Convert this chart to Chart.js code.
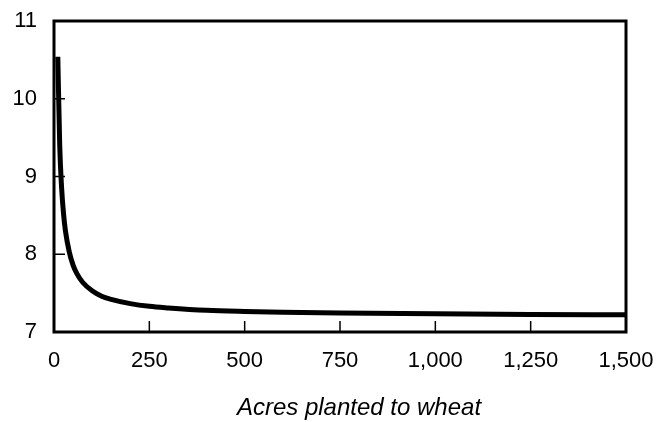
<!DOCTYPE html>
<html lang="en">
  <head>
    <meta charset="UTF-8" />
    <title>Average cost per acre</title>
    <script src="https://cdn.jsdelivr.net/npm/chart.js"></script>
    <style>
      body {
        margin: 0;
        padding: 0;
        background: #fff;
      }
    </style>
  </head>
  <body>
    <canvas id="costChart" width="670" height="422"></canvas>

    <script>
      // values
      const acres = [10, 15, 20, 25, 30, 40, 50, 60, 75, 100, 125, 150, 200, 250, 300, 400, 500, 600, 750, 1000, 1250, 1500];
      const cost = [10.54, 9.4, 8.85, 8.52, 8.3, 8.03, 7.86, 7.75, 7.64, 7.53, 7.46, 7.42, 7.365, 7.33, 7.31, 7.28, 7.265, 7.255, 7.245, 7.235, 7.225, 7.222];
      const xTicks = [0, 250, 500, 750, 1000, 1250, 1500];
      const yTicks = [7, 8, 9, 10, 11];
      const xTitle = "Acres planted to wheat";

      const fontFamily = "'Liberation Sans', Arial, sans-serif";

      // box around the plot, inward tick marks and the axis title
      const frame = {
        id: "frame",
        afterDraw(chart) {
          const { ctx, chartArea: a, scales } = chart;
          ctx.save();
          ctx.strokeStyle = "#000";
          ctx.lineWidth = 1.5;
          xTicks.forEach((v) => {
            const x = scales.x.getPixelForValue(v);
            ctx.beginPath();
            ctx.moveTo(x, a.bottom);
            ctx.lineTo(x, a.bottom - 11);
            ctx.stroke();
          });
          yTicks.forEach((v) => {
            const y = scales.y.getPixelForValue(v);
            ctx.beginPath();
            ctx.moveTo(a.left, y);
            ctx.lineTo(a.left + 11, y);
            ctx.stroke();
          });
          ctx.lineWidth = 3;
          ctx.strokeRect(a.left, a.top, a.right - a.left, a.bottom - a.top);

          // title sits a little right of the plot centre in the original
          ctx.fillStyle = "#000";
          ctx.font = "italic 24px " + fontFamily;
          ctx.textAlign = "center";
          ctx.textBaseline = "alphabetic";
          ctx.fillText(xTitle, (a.left + a.right) / 2 + 19, a.bottom + 83);
          ctx.restore();
        },
      };

      const font = { family: fontFamily, size: 22 };

      new Chart(document.getElementById("costChart"), {
        type: "line",
        data: {
          datasets: [
            {
              data: acres.map((a, i) => ({ x: a, y: cost[i] })),
              borderColor: "#000",
              borderWidth: 5,
              pointRadius: 0,
              cubicInterpolationMode: "monotone",
              fill: false,
            },
          ],
        },
        options: {
          responsive: false,
          animation: false,
          layout: { padding: { top: 21, right: 44, left: 8, bottom: 0 } },
          plugins: { legend: { display: false }, tooltip: { enabled: false } },
          scales: {
            x: {
              type: "linear",
              min: 0,
              max: 1500,
              afterBuildTicks: (s) => (s.ticks = xTicks.map((v) => ({ value: v }))),
              afterFit: (s) => {
                s.height = 90;
                s.paddingLeft = 0;
                s.paddingRight = 0;
              },
              grid: { display: false, drawTicks: false },
              border: { display: false },
              ticks: {
                color: "#000",
                font: font,
                padding: 16,
                maxRotation: 0,
                autoSkip: false,
                callback: (v) => v.toLocaleString("en-US"),
              },
            },
            y: {
              min: 7,
              max: 11,
              afterBuildTicks: (s) => (s.ticks = yTicks.map((v) => ({ value: v }))),
              afterFit: (s) => {
                s.width = 46;
                s.paddingTop = 0;
                s.paddingBottom = 0;
              },
              grid: { display: false, drawTicks: false },
              border: { display: false },
              ticks: { color: "#000", font: font, padding: 17, autoSkip: false },
            },
          },
        },
        plugins: [frame],
      });
    </script>
  </body>
</html>
